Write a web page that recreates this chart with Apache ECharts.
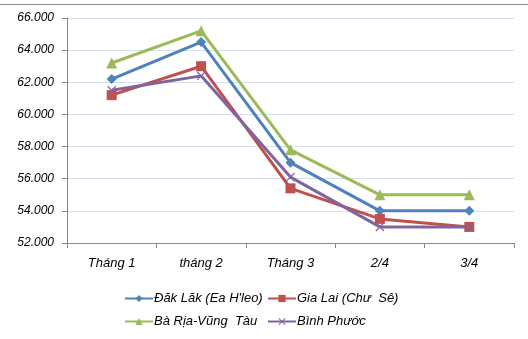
<!DOCTYPE html>
<html>
<head>
<meta charset="utf-8">
<script src="https://cdn.jsdelivr.net/npm/echarts@6/dist/echarts.min.js"></script>
<style>
  html, body { margin: 0; padding: 0; background: #fff; }
  #chart { width: 528px; height: 339px; }
</style>
</head>
<body>
<div id="chart"></div>
<script>
// Categories (time points)
const categories = ['Tháng 1', 'tháng 2', 'Tháng 3', '2/4', '3/4'];

// Series values
const dakLak   = [62.2, 64.5, 57.0, 54.0, 54.0];
const giaLai   = [61.2, 63.0, 55.4, 53.5, 53.0];
const baRia    = [63.2, 65.2, 57.8, 55.0, 55.0];
const binhPhuoc = [61.5, 62.4, 56.1, 53.0, 53.0];

const seriesNames = ['Đăk Lăk (Ea H\'leo)', 'Gia Lai (Chư  Sê)', 'Bà Rịa-Vũng  Tàu', 'Bình Phước'];

// Y axis range
const yMin = 52, yMax = 66, yStep = 2;

const crossPath = 'path://M0,1 L1,0 L5,4 L9,0 L10,1 L6,5 L10,9 L9,10 L5,6 L1,10 L0,9 L4,5 Z';

const font = '"Liberation Sans", Arial, sans-serif';

function lineSeries(name, data, color, symbol, size) {
  return {
    name, type: 'line', data,
    symbol, symbolSize: size,
    lineStyle: { color, width: 3 },
    itemStyle: { color },
    emphasis: { disabled: true },
    animation: false
  };
}

const legendText = { color: '#000', fontFamily: font, fontStyle: 'italic', fontSize: 13, padding: [0, 0, 0, -4] };

const chart = echarts.init(document.getElementById('chart'));
chart.setOption({
  animation: false,
  grid: { left: 67, right: 14, top: 18, bottom: 96 },
  graphic: [{
    type: 'line',
    shape: { x1: 0, y1: 4.5, x2: 528, y2: 4.5 },
    style: { stroke: '#8a8a8a', lineWidth: 1 }
  }],
  xAxis: {
    type: 'category',
    data: categories,
    boundaryGap: true,
    axisLine: { lineStyle: { color: '#868686', width: 1 } },
    axisTick: { show: true, length: 5, alignWithLabel: false, lineStyle: { color: '#868686' } },
    axisLabel: { color: '#000', fontFamily: font, fontStyle: 'italic', fontSize: 13, margin: 14 }
  },
  yAxis: {
    type: 'value',
    min: yMin, max: yMax, interval: yStep,
    axisLine: { show: true, lineStyle: { color: '#868686', width: 1 } },
    axisTick: { show: true, length: 5, lineStyle: { color: '#868686' } },
    splitLine: { lineStyle: { color: '#d4e0ee', width: 1 } },
    axisLabel: {
      color: '#000', fontFamily: font, fontStyle: 'italic', fontSize: 12, margin: 13,
      formatter: v => v.toFixed(0) + '.000'
    }
  },
  legend: [
    {
      orient: 'vertical', left: 119, top: 287, itemGap: 10,
      itemWidth: 28, itemHeight: 9,
      data: [seriesNames[0], seriesNames[2]],
      textStyle: legendText
    },
    {
      orient: 'vertical', left: 262, top: 287, itemGap: 10,
      itemWidth: 28, itemHeight: 9,
      data: [seriesNames[1], seriesNames[3]],
      textStyle: legendText
    }
  ],
  series: [
    lineSeries(seriesNames[0], dakLak, '#4f81bd', 'diamond', 10),
    lineSeries(seriesNames[1], giaLai, '#c0504d', 'rect', 10),
    lineSeries(seriesNames[2], baRia, '#9bbb59', 'triangle', 11),
    lineSeries(seriesNames[3], binhPhuoc, '#8064a2', crossPath, 9)
  ]
});
</script>
</body>
</html>
